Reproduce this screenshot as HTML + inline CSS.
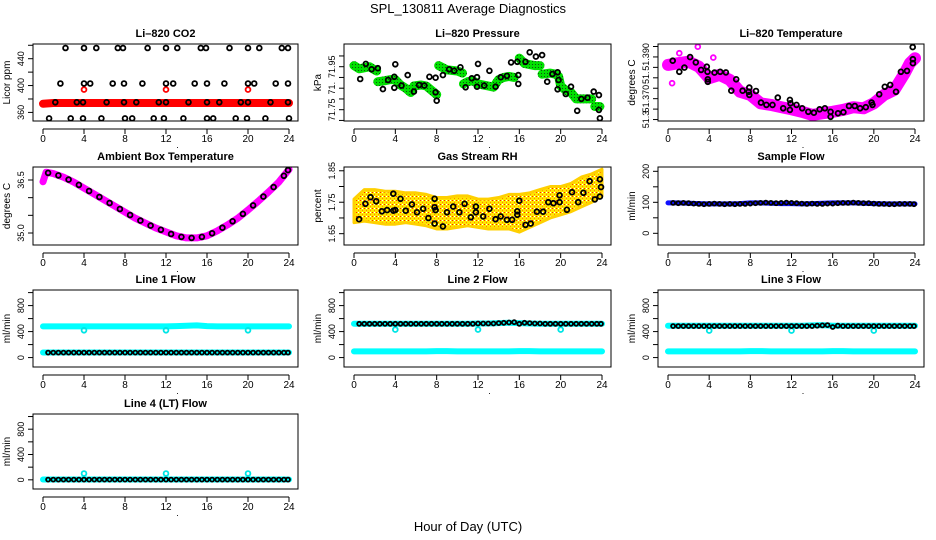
<!DOCTYPE html>
<html><head><meta charset="utf-8"><style>
html,body{margin:0;padding:0;background:#fff;}
svg{display:block;font-family:"Liberation Sans",Arial,sans-serif;}
</style></head><body>
<svg id="chart" width="936" height="540" viewBox="0 0 936 540" xmlns="http://www.w3.org/2000/svg">
<defs>
<pattern id="greenDots" width="3" height="3" patternUnits="userSpaceOnUse"><rect width="3" height="3" fill="#00e000"/><rect x="1" y="1" width="1" height="1" fill="#105010"/></pattern>
<pattern id="rhDots" width="4" height="4" patternUnits="userSpaceOnUse"><rect width="4" height="4" fill="#ffe600"/><rect x="0" y="0" width="1" height="1" fill="#ff2000"/><rect x="2" y="2" width="1" height="1" fill="#ff8000"/><rect x="2" y="0" width="1" height="1" fill="#ffffff"/></pattern>
</defs>
<text x="468" y="13" text-anchor="middle" font-size="13">SPL_130811  Average Diagnostics</text>
<text x="468" y="531" text-anchor="middle" font-size="13">Hour of Day (UTC)</text>
</svg>
<script>
// ---------- data ----------
const halfHours = [0.5,1,1.5,2,2.5,3,3.5,4,4.5,5,5.5,6,6.5,7,7.5,8,8.5,9,9.5,10,10.5,11,11.5,12,12.5,13,13.5,14,14.5,15,15.5,16,16.5,17,17.5,18,18.5,19,19.5,20,20.5,21,21.5,22,22.5,23,23.5,23.9];
const bandHours = [0,1,2,3,4,5,6,7,8,9,10,11,12,13,14,15,16,17,18,19,20,21,22,23,24];
const outlierHours = [4,12,20];

// CO2
const co2Hours = [2.2,4.0,5.2,7.3,7.8,10.2,12.0,13.1,15.4,15.9,18.2,20.0,21.1,23.3,23.9, 1.7,4.0,4.6,6.8,7.9,9.7,12.0,12.7,14.8,16.0,17.7,20.0,20.6,22.7,23.9, 1.2,3.3,3.9,6.2,7.9,9.1,11.3,12.0,14.2,16.0,17.2,19.3,20.0,22.2,23.9, 0.6,2.7,3.9,5.7,8.0,8.7,10.8,11.8,13.7,16.0,16.6,18.8,19.9,21.7,24.0];
const co2Values = [456,456,456,456,456,456,456,456,456,456,456,456,456,456,456, 403,403,403,403,403,403,403,403,403,403,403,403,403,403,403, 375,375,375,375,375,375,375,375,375,375,375,375,375,375,375, 351,351,351,351,351,351,351,351,351,351,351,351,351,351,351];
const co2Band = [373,374,374,374,374,374,374,374,374,374,374,374,374,374,374,374,374,374,374,374,374,374,374,374,374];
const co2Outliers = [394,394,394];

// Pressure
const presHours = [1.14,0.6,1.7,2.3,2.8,3.3,3.9,4.0,3.9,4.6,5.2,5.8,6.3,6.8,7.3,7.9,7.9,8.0,8.6,9.2,9.7,10.3,10.8,11.4,11.9,12.0,11.9,12.6,13.1,13.7,14.2,14.8,15.2,15.8,15.9,15.9,16.6,17.0,17.6,18.2,18.7,19.2,19.7,19.8,19.7,20.5,21.0,21.6,22.0,22.6,23.2,23.7,23.7,23.8];
const presValues = [71.963,71.893,71.938,71.943,71.846,71.888,71.903,71.961,71.852,71.862,71.911,71.834,71.865,71.862,71.903,71.899,71.831,71.792,71.911,71.938,71.931,71.947,71.854,71.896,71.901,71.963,71.857,71.862,71.931,71.857,71.901,71.907,71.970,71.973,71.911,71.870,71.973,72.017,71.997,72.004,71.880,71.916,71.924,71.888,71.845,71.823,71.857,71.745,71.800,71.806,71.834,71.818,71.749,71.710];
const presBandHours = [0,0.5,1,1.5,2,2.2,null,2.3,3,3.5,4,4.5,5,5.5,5.8,6.5,7,7.5,8,null,8.2,9,10,10.5,null,10.6,11,11.5,12,12.5,13,13.5,14,14.5,15,15.5,null,16,16.5,17,17.5,18,null,18.2,19,19.5,19.8,20,20.5,21,21.5,22,22.5,23,null,23.3,23.8];
const presBandValues = [71.955,71.94,71.945,71.95,71.935,71.93,null,71.88,71.885,71.89,71.89,71.865,71.85,71.83,71.86,71.865,71.86,71.84,71.82,null,71.955,71.935,71.93,71.92,null,71.87,71.88,71.885,71.87,71.865,71.86,71.855,71.89,71.9,71.905,71.9,null,71.99,71.965,71.96,71.955,71.955,null,71.915,71.92,71.915,71.905,71.86,71.84,71.83,71.8,71.8,71.8,71.8,null,71.765,71.765];

// Li-820 temperature
const tempHours = [0.46,1.10,1.59,2.15,2.70,3.22,3.77,3.84,3.87,3.87,4.52,5.07,5.63,6.63,6.15,7.25,7.84,7.90,7.90,8.55,9.04,9.56,10.15,10.67,11.19,11.84,11.84,11.9,12.49,13.04,13.63,14.18,14.73,15.25,15.80,15.80,16.52,17.04,17.59,18.15,18.67,19.22,19.78,19.87,20.52,21.07,21.59,22.15,22.63,23.22,23.78,23.8,23.8];
const tempValues = [51.3882,51.3829,51.3849,51.3899,51.3874,51.3838,51.3853,51.3829,51.3793,51.3781,51.3825,51.3829,51.3826,51.3793,51.3738,51.3738,51.3733,51.3718,51.3753,51.3737,51.3681,51.3670,51.3670,51.3705,51.3654,51.3694,51.3646,51.3678,51.3670,51.3654,51.3637,51.3633,51.3649,51.3654,51.3637,51.3613,51.3630,51.3635,51.3665,51.3665,51.3654,51.3659,51.3681,51.3670,51.3721,51.3757,51.3766,51.3733,51.3829,51.3833,51.3947,51.3889,51.3870];
const tempBandHours = [0,1,2,3,4,5,6,7,8,9,10,11,12,13,14,15,16,17,18,19,20,21,22,23,23.5,24];
const tempBandValues = [51.3862,51.3870,51.3877,51.3853,51.3798,51.3814,51.3790,51.3733,51.3718,51.3678,51.3670,51.3659,51.3649,51.3637,51.3622,51.3630,51.3637,51.3646,51.3659,51.3654,51.3678,51.3718,51.3742,51.3822,51.3870,51.3894];
const tempOutHours = [2.9,0.4,1.1,4.4];
const tempOutValues = [51.3949,51.3774,51.3918,51.3897];

// Ambient box temperature
const ambHours = [0,0.3,1,2,3,4,5,6,7,8,9,10,11,12,13,14,15,16,17,18,19,20,21,22,23,24];
const ambValues = [36.45,36.72,36.68,36.58,36.44,36.27,36.10,35.93,35.76,35.59,35.42,35.28,35.14,35.03,34.92,34.86,34.86,34.92,35.06,35.23,35.42,35.65,35.90,36.16,36.44,36.80];
const ambBlackHours = [0.5,1.5,2.5,3.5,4.5,5.5,6.5,7.5,8.5,9.5,10.5,11.5,12.5,13.5,14.5,15.5,16.5,17.5,18.5,19.5,20.5,21.5,22.5,23.5,23.9];
const ambBlack = [36.70,36.63,36.51,36.36,36.19,36.02,35.85,35.68,35.51,35.35,35.21,35.09,34.97,34.89,34.86,34.89,34.99,35.15,35.33,35.54,35.78,36.03,36.30,36.62,36.78];

// Gas stream RH
const rhHours = [0.49,1.1,1.6,2.15,2.7,3.2,3.8,3.8,4.0,4.5,5.0,5.6,6.1,6.7,7.2,7.8,7.8,7.9,7.8,8.6,9.0,9.6,10.2,10.7,11.3,11.8,11.8,12.5,13.1,13.7,14.2,14.8,15.3,15.8,15.8,16.0,16.6,17.1,17.7,18.3,18.8,19.3,19.9,19.9,20.6,21.1,21.7,22.2,22.8,23.3,23.8,23.8,23.9];
const rhValues = [1.696,1.745,1.766,1.753,1.721,1.725,1.723,1.777,1.725,1.761,1.723,1.743,1.718,1.729,1.700,1.761,1.734,1.725,1.682,1.673,1.718,1.736,1.718,1.745,1.702,1.736,1.718,1.705,1.729,1.696,1.705,1.694,1.694,1.721,1.710,1.755,1.678,1.682,1.720,1.720,1.750,1.747,1.750,1.772,1.726,1.782,1.750,1.780,1.817,1.759,1.768,1.823,1.798];
const rhBandLow = [1.685,1.69,1.685,1.68,1.68,1.685,1.68,1.675,1.665,1.665,1.67,1.675,1.67,1.665,1.665,1.665,1.655,1.67,1.685,1.7,1.71,1.72,1.735,1.75,1.77];
const rhBandHigh = [1.76,1.79,1.79,1.785,1.785,1.78,1.78,1.775,1.765,1.765,1.77,1.77,1.76,1.76,1.765,1.775,1.775,1.78,1.79,1.8,1.8,1.81,1.83,1.84,1.855];

// Sample flow
const sampleBand = [98,98,97,96,95,95,95,96,98,98,97,96,96,95,96,97,98,98,98,97,96,95,95,95,95];
const sampleBlack = [98,97,98,97,96,95,94,95,96,95,94,95,94,95,95,96,97,98,99,98,97,98,99,98,97,96,95,96,95,95,96,96,97,98,98,99,98,97,97,96,95,95,94,94,95,95,95,94];

// Line flows
const line1High = [480,480,480,480,480,480,480,480,480,480,480,480,480,485,490,495,485,480,480,480,480,480,480,480,480];
const line1Low = [78,78,78,78,78,78,78,78,78,78,78,78,78,78,78,78,78,78,78,78,78,78,78,78,78];
const line1Black = [76,76,76,76,76,76,76,76,76,76,76,76,76,76,76,76,76,76,76,76,76,76,76,76,76,76,76,76,76,76,76,76,76,76,76,76,76,76,76,76,76,76,76,76,76,76,76,76];
const line1Out = [420,420,420];
const line2High = [520,520,520,520,520,520,520,520,520,520,520,520,525,525,530,535,530,525,520,520,520,520,520,520,520];
const line2Low = [95,95,95,95,95,95,95,95,100,100,95,95,95,95,95,95,100,100,95,95,95,95,95,95,95];
const line2Black = [520,520,520,520,520,520,520,520,520,520,520,520,520,520,520,520,520,520,520,520,520,520,520,525,525,525,525,530,535,540,545,520,535,530,525,525,520,520,520,520,520,520,520,520,520,520,520,520];
const line2Out = [430,430,430];
const line3High = [490,490,490,490,490,490,490,490,490,490,490,490,490,490,495,500,490,490,490,490,490,490,490,490,490];
const line3Low = [95,95,95,95,95,95,95,95,100,100,95,95,95,95,95,95,100,100,95,95,95,95,95,95,95];
const line3Black = [485,485,485,485,485,485,485,485,485,485,485,485,485,485,485,485,485,485,485,485,485,485,485,485,485,485,485,485,490,495,500,470,490,485,485,485,485,485,485,485,485,485,485,485,485,485,485,485];
const line3Out = [415,415,415];
const line4Band = [5,5,5,5,5,5,5,5,5,5,5,5,5,5,5,5,5,5,5,5,5,5,5,5,5];
const line4Black = [3,3,3,3,3,3,3,3,3,3,3,3,3,3,3,3,3,3,3,3,3,3,3,3,3,3,3,3,3,3,3,3,3,3,3,3,3,3,3,3,3,3,3,3,3,3,3,3];
const line4Out = [100,100,100];

// ---------- drawing ----------
const NS = 'http://www.w3.org/2000/svg';
const svg = document.getElementById('chart');
const cols = [[33,298],[344,611],[658,924]];
const rows = [[44,121],[167,245],[290,367],[414,489]];
const hourTicks = [0,4,8,12,16,20,24];

function mk(tag, parent, attrs){
  const e = document.createElementNS(NS, tag);
  for (const k in attrs) e.setAttribute(k, attrs[k]);
  parent.appendChild(e);
  return e;
}

function panel(key, ci, ri, title, ylab, vb, vt, ticks, labels){
  const L = cols[ci][0], R = cols[ci][1], T = rows[ri][0], B = rows[ri][1];
  const sx = h => L + 10 + h * (R - L - 19) / 24;
  const sy = v => B - (v - vb) / (vt - vb) * (B - T);
  const g = mk('g', svg, {});
  
  
  const cp = mk('clipPath', g, {id: 'clip-' + key});
  mk('rect', cp, {x: L, y: T, width: R - L, height: B - T});
  const t = mk('text', g, {x: (L + R) / 2, y: T - 7, 'text-anchor': 'middle', 'font-size': 11, 'font-weight': 'bold'});
  t.textContent = title;
  
  
  const yl = mk('text', g, {transform: 'translate(' + (L - 23) + ',' + ((T + B) / 2) + ') rotate(-90)', 'text-anchor': 'middle', 'font-size': 10});
  yl.textContent = ylab;
  
  
  const xa = mk('g', g, {stroke: '#000', 'stroke-width': 1});
  
  
  mk('line', xa, {x1: sx(0), x2: sx(24), y1: B + 8, y2: B + 8});
  hourTicks.forEach(h => {
    mk('line', xa, {x1: sx(h), x2: sx(h), y1: B + 8, y2: B + 13});
    const tl = mk('text', g, {x: sx(h), y: B + 21, 'text-anchor': 'middle', 'font-size': 10});
    tl.textContent = String(h);
    
    
  });
  const dot = mk('text', g, {x: (L + R) / 2 + 12, y: B + 27, 'text-anchor': 'middle', 'font-size': 9});
  dot.textContent = '.';
  
  
  const ya = mk('g', g, {stroke: '#000', 'stroke-width': 1});
  
  
  mk('line', ya, {x1: L, x2: L, y1: sy(ticks[0]), y2: sy(ticks[ticks.length - 1])});
  ticks.forEach((v, i) => {
    mk('line', ya, {x1: L, x2: L - 5, y1: sy(v), y2: sy(v)});
    if (labels[i]) {
      const tl = mk('text', g, {transform: 'translate(' + (L - 9) + ',' + sy(v) + ') rotate(-90)', 'text-anchor': 'middle', 'font-size': 9});
      tl.textContent = labels[i];
      
      
    }
  });
  const data = mk('g', g, {'clip-path': 'url(#clip-' + key + ')'});
  
  
  const box = mk('rect', g, {x: L, y: T, width: R - L, height: B - T, fill: 'none', stroke: '#000', 'stroke-width': 1});
  
  
  return {sx, sy, g: data};
}

function band(p, hours, vals, color, width, name){
  let d = '', pen = false;
  hours.forEach((h, i) => {
    if (h === null || vals[i] === null) { pen = false; return; }
    d += (pen ? 'L' : 'M') + p.sx(h).toFixed(1) + ',' + p.sy(vals[i]).toFixed(1);
    pen = true;
  });
  const e = mk('path', p.g, {d: d, fill: 'none', stroke: color, 'stroke-width': width, 'stroke-linecap': 'round', 'stroke-linejoin': 'round'});
  
  
}

function pts(p, hours, vals, color, name, r){
  const grp = mk('g', p.g, {fill: 'none', stroke: color, 'stroke-width': 1.8});
  
  
  hours.forEach((h, i) => {
    const c = mk('circle', grp, {cx: p.sx(h).toFixed(1), cy: p.sy(vals[i]).toFixed(1), r: r || 2.4});
    
    
  });
}

let p = panel('co2', 0, 0, 'Li\u2013820 CO2', 'Licor ppm', 347.2, 461.9, [360,380,400,420,440,460], ['360','','400','','440','']);
band(p, bandHours, co2Band, '#ff0000', 8, 'co2-red-band');
pts(p, outlierHours, co2Outliers, '#ff0000', 'co2-red-outliers');
pts(p, co2Hours, co2Values, '#000', 'co2-black-points');

p = panel('pressure', 1, 0, 'Li\u2013820 Pressure', 'kPa', 71.6974, 72.0556, [71.70,71.75,71.80,71.85,71.90,71.95,72.00], ['','71.75','','71.','','71.95','']);
band(p, presBandHours, presBandValues, 'url(#greenDots)', 9, 'pressure-green-band');
pts(p, presHours, presValues, '#000', 'pressure-black-points');

p = panel('temperature', 2, 0, 'Li\u2013820 Temperature', 'degrees C', 51.3593, 51.3962, [51.360,51.365,51.370,51.375,51.380,51.385,51.390,51.395], ['51.3','','51.370','','51.','','51.390','']);
band(p, tempBandHours, tempBandValues, '#ff00ff', 12, 'temperature-magenta-band');
pts(p, tempOutHours, tempOutValues, '#ff00ff', 'temperature-magenta-outliers');
pts(p, tempHours, tempValues, '#000', 'temperature-black-points');

p = panel('ambient', 0, 1, 'Ambient Box Temperature', 'degrees C', 34.66, 36.868, [35.0,35.5,36.0,36.5], ['35.0','','','36.5']);
band(p, ambHours, ambValues, '#ff00ff', 7, 'ambient-magenta-line');
pts(p, ambBlackHours, ambBlack, '#000', 'ambient-black-points');

p = panel('rh', 1, 1, 'Gas Stream RH', 'percent', 1.614, 1.862, [1.65,1.70,1.75,1.80,1.85], ['1.65','','1.75','','1.85']);
{
  let d = '';
  bandHours.forEach((h, i) => { d += (i ? 'L' : 'M') + p.sx(h).toFixed(1) + ',' + p.sy(rhBandHigh[i]).toFixed(1); });
  for (let i = bandHours.length - 1; i >= 0; i--) d += 'L' + p.sx(bandHours[i]).toFixed(1) + ',' + p.sy(rhBandLow[i]).toFixed(1);
  const e = mk('path', p.g, {d: d + 'Z', fill: 'url(#rhDots)', stroke: '#ffd000', 'stroke-width': 3, 'stroke-linejoin': 'round'});
  
  
}
pts(p, rhHours, rhValues, '#000', 'rh-black-points');

p = panel('sample-flow', 2, 1, 'Sample Flow', 'ml/min', -37.7, 213.9, [0,50,100,150,200], ['0','','100','','200']);
band(p, bandHours, sampleBand, '#1010ff', 5, 'sample-flow-blue-band');
pts(p, halfHours, sampleBlack, '#000', 'sample-flow-black-points', 2);

const flowTicks = [0,200,400,600,800,1000];
const flowLabels = ['0','','400','','800',''];
p = panel('line1', 0, 2, 'Line 1 Flow', 'ml/min', -145, 1040, flowTicks, flowLabels);
band(p, bandHours, line1High, '#00ffff', 6, 'line1-cyan-high-band');
band(p, bandHours, line1Low, '#00ffff', 6, 'line1-cyan-low-band');
pts(p, outlierHours, line1Out, '#00e5e5', 'line1-cyan-outliers');
pts(p, halfHours, line1Black, '#000', 'line1-black-points', 2);

p = panel('line2', 1, 2, 'Line 2 Flow', 'ml/min', -145, 1040, flowTicks, flowLabels);
band(p, bandHours, line2High, '#00ffff', 6, 'line2-cyan-high-band');
band(p, bandHours, line2Low, '#00ffff', 6, 'line2-cyan-low-band');
pts(p, outlierHours, line2Out, '#00e5e5', 'line2-cyan-outliers');
pts(p, halfHours, line2Black, '#000', 'line2-black-points', 2);

p = panel('line3', 2, 2, 'Line 3 Flow', 'ml/min', -145, 1040, flowTicks, flowLabels);
band(p, bandHours, line3High, '#00ffff', 6, 'line3-cyan-high-band');
band(p, bandHours, line3Low, '#00ffff', 6, 'line3-cyan-low-band');
pts(p, outlierHours, line3Out, '#00e5e5', 'line3-cyan-outliers');
pts(p, halfHours, line3Black, '#000', 'line3-black-points', 2);

p = panel('line4', 0, 3, 'Line 4 (LT) Flow', 'ml/min', -145, 1040, flowTicks, flowLabels);
band(p, bandHours, line4Band, '#00ffff', 6, 'line4-cyan-band');
pts(p, outlierHours, line4Out, '#00e5e5', 'line4-cyan-outliers');
pts(p, halfHours, line4Black, '#000', 'line4-black-points', 2);
</script>
</body></html>
